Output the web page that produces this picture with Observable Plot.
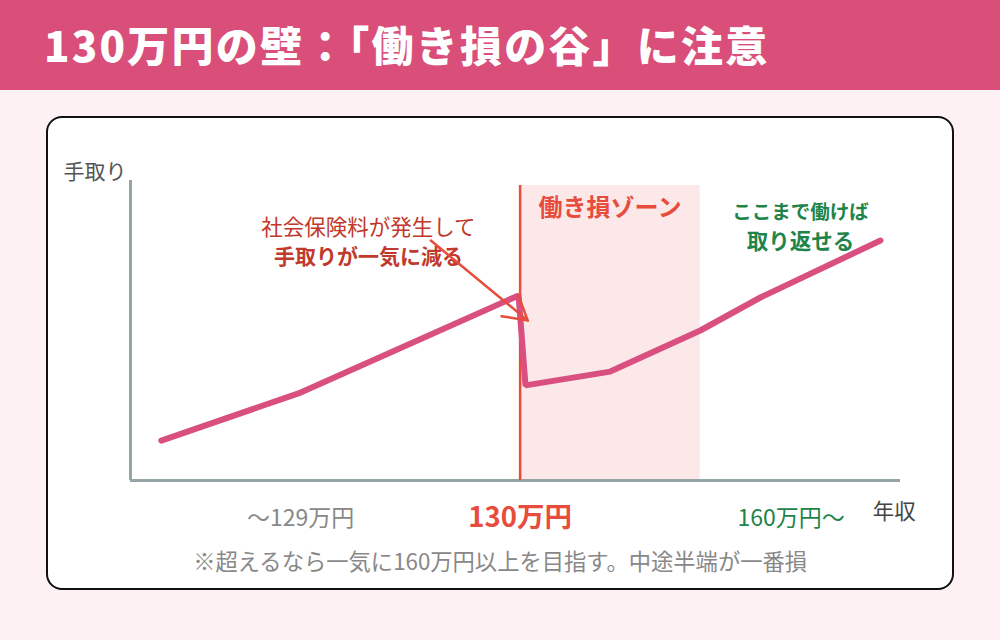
<!DOCTYPE html>
<html><head><meta charset="utf-8">
<script src="https://cdn.jsdelivr.net/npm/d3@7"></script>
<script src="https://cdn.jsdelivr.net/npm/@observablehq/plot@0.6"></script>
<style>
  html,body{margin:0;padding:0;}
  body{width:1000px;height:640px;background:#fdf1f4;position:relative;overflow:hidden;font-family:"Noto Sans CJK JP","Noto Sans",sans-serif;}
  #header{position:absolute;left:0;top:0;width:1000px;height:90px;background:#d94f7a;}
  #title{position:absolute;left:44px;top:16px;color:#fff;font-size:42px;font-weight:900;line-height:56px;letter-spacing:2.2px;white-space:nowrap;}
  #box{position:absolute;left:46px;top:116px;width:904px;height:470px;background:#fff;border:2px solid #111;border-radius:16px;}
  #chart{position:absolute;left:46px;top:116px;}
</style></head>
<body>
<div id="header"><div id="title">130万円の壁：「働き損の谷」に注意</div></div>
<div id="box"></div>
<div id="chart"></div>
<script>
// 年収 (arbitrary index, 0–100) vs 手取り (arbitrary index, 0–100)
const income   = [4, 22.1, 50.4, 51.3, 62.3, 74, 81.8, 97.4];
const takeHome = [13.3, 29.3, 61.7, 31.7, 36.3, 50, 61, 80];

const wallX = 50.6;          // 130万円 line
const zoneEnd = 74;          // end of 働き損ゾーン
const zoneTop = 98.3;

const xTickLabels = ["〜129万円", "130万円", "160万円〜"];
const xTickPos    = [22.1, 50.6, 85.8];
const xTickColors = ["#888888", "#e74c3c", "#1e8449"];
const xTickBold   = [false, true, false];

const noteLines = ["社会保険料が発生して", "手取りが一気に減る"];
const noteY     = [84, 74.3];
const noteBold  = [false, true];

const recoverLines = ["ここまで働けば", "取り返せる"];
const recoverY     = [89.3, 79.3];

const arrowFrom = {x: 39, y: 80};
const arrowTo   = {x: 51.6, y: 53.3};

const footnote = "※超えるなら一気に160万円以上を目指す。中途半端が一番損";

const lineData = income.map((x, i) => ({x, y: takeHome[i]}));
const ticks = xTickLabels.map((t, i) => ({t, x: xTickPos[i], c: xTickColors[i], b: xTickBold[i]}));
const notes = noteLines.map((t, i) => ({t, y: noteY[i], b: noteBold[i]}));
const recover = recoverLines.map((t, i) => ({t, y: recoverY[i]}));

const FONT = "Noto Sans CJK JP";

const chart = Plot.plot({
  width: 908,
  height: 474,
  marginLeft: 84,
  marginRight: 54,
  marginTop: 64,
  marginBottom: 110,
  x: {domain: [0, 100], axis: null},
  y: {domain: [0, 100], axis: null},
  style: {background: "transparent", fontFamily: FONT, overflow: "visible"},
  marks: [
    Plot.rect([{x1: wallX, x2: zoneEnd, y1: 0, y2: zoneTop}], {x1: "x1", x2: "x2", y1: "y1", y2: "y2", fill: "#fce8e8"}),
    Plot.ruleX([0], {y1: 0, y2: 100, stroke: "#95a5a6", strokeWidth: 3}),
    Plot.ruleY([0], {x1: 0, x2: 100, stroke: "#95a5a6", strokeWidth: 3}),
    Plot.ruleX([wallX], {y1: 0, y2: zoneTop, stroke: "#e74c3c", strokeWidth: 2.5}),
    Plot.line(lineData, {x: "x", y: "y", stroke: "#d94f80", strokeWidth: 6, strokeLinejoin: "miter"}),
    Plot.text(notes, {filter: d => !d.b, x: 30.9, y: "y", text: "t", fill: "#c0392b", fontSize: 21.5, fontFamily: FONT}),
    Plot.text(notes, {filter: d => d.b, x: 30.9, y: "y", text: "t", fill: "#c0392b", fontSize: 21, fontWeight: "bold", fontFamily: FONT}),
    Plot.arrow([{x1: arrowFrom.x, y1: arrowFrom.y, x2: arrowTo.x, y2: arrowTo.y}], {x1: "x1", y1: "y1", x2: "x2", y2: "y2", stroke: "#e74c3c", strokeWidth: 2.5, headLength: 16, bend: 0}),
    Plot.text(["働き損ゾーン"], {x: 53, y: 90.7, text: d => d, textAnchor: "start", fill: "#e74c3c", fontSize: 24, fontWeight: "bold", fontFamily: FONT}),
    Plot.text(recover, {x: 87, y: "y", text: "t", fill: "#1e8449", fontSize: 19.5, fontWeight: "bold", fontFamily: FONT, filter: d => d.t === recoverLines[0]}),
    Plot.text(recover, {x: 87, y: "y", text: "t", fill: "#1e8449", fontSize: 21.5, fontWeight: "bold", fontFamily: FONT, filter: d => d.t === recoverLines[1]}),
    Plot.text(["手取り"], {x: -8.7, y: 102.7, text: d => d, textAnchor: "start", fill: "#555555", fontSize: 21, fontFamily: FONT}),
    Plot.text(ticks, {filter: d => !d.b, x: "x", y: 0, dy: 38, text: "t", fill: "c", fontSize: 23, fontFamily: FONT}),
    Plot.text(ticks, {filter: d => d.b, x: "x", y: 0, dy: 38, text: "t", fill: "c", fontSize: 27.5, fontWeight: "bold", fontFamily: FONT}),
    Plot.text(["年収"], {x: 99.2, y: 0, dy: 32, text: d => d, fill: "#444444", fontSize: 21.5, fontFamily: FONT}),
    Plot.text([footnote], {x: 48, y: 0, dy: 82, text: d => d, fill: "#888888", fontSize: 22.3, fontFamily: FONT})
  ]
});
document.getElementById("chart").appendChild(chart);
</script>
</body></html>
